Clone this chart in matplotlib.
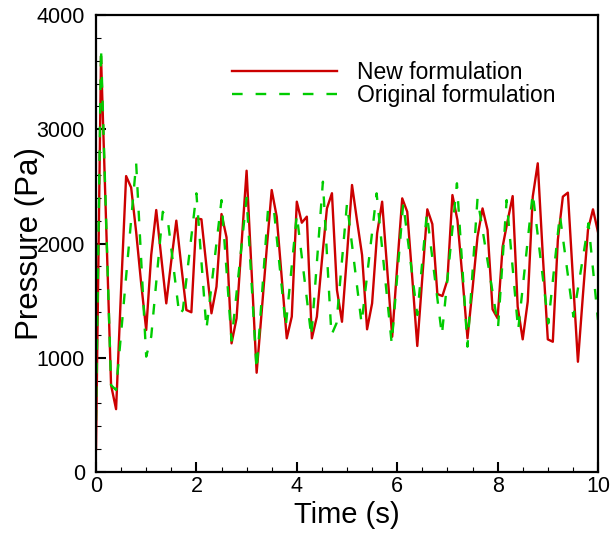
import matplotlib
matplotlib.use('Agg')
import matplotlib.pyplot as plt
from matplotlib.ticker import MultipleLocator

plt.rcParams['font.family'] = ['Liberation Sans', 'DejaVu Sans']

# New formulation (red), sampled every 0.1 s
time_new = [0.0, 0.1, 0.2, 0.3, 0.4, 0.5, 0.6, 0.7, 0.8, 0.9,
            1.0, 1.1, 1.2, 1.3, 1.4, 1.5, 1.6, 1.7, 1.8, 1.9,
            2.0, 2.1, 2.2, 2.3, 2.4, 2.5, 2.6, 2.7, 2.8, 2.9,
            3.0, 3.1, 3.2, 3.3, 3.4, 3.5, 3.6, 3.7, 3.8, 3.9,
            4.0, 4.1, 4.2, 4.3, 4.4, 4.5, 4.6, 4.7, 4.8, 4.9,
            5.0, 5.1, 5.2, 5.3, 5.4, 5.5, 5.6, 5.7, 5.8, 5.9,
            6.0, 6.1, 6.2, 6.3, 6.4, 6.5, 6.6, 6.7, 6.8, 6.9,
            7.0, 7.1, 7.2, 7.3, 7.4, 7.5, 7.6, 7.7, 7.8, 7.9,
            8.0, 8.1, 8.2, 8.3, 8.4, 8.5, 8.6, 8.7, 8.8, 8.9,
            9.0, 9.1, 9.2, 9.3, 9.4, 9.5, 9.6, 9.7, 9.8, 9.9, 10.0]
p_new = [200, 3640, 2200, 760, 550, 1600, 2590, 2490, 2100, 1650,
         1243, 1900, 2293, 1880, 1476, 1850, 2200, 1800, 1418, 1398,
         2220, 2212, 1800, 1389, 1622, 2258, 2054, 1126, 1345, 2000,
         2637, 1750, 869, 1400, 1950, 2468, 2235, 1700, 1170, 1360,
         2366, 2182, 2235, 1170, 1360, 1850, 2307, 2440, 1593, 1315,
         1900, 2512, 2200, 1900, 1249, 1476, 2089, 2366, 1780, 1184,
         1800, 2395, 2278, 1700, 1103, 1700, 2299, 2170, 1558, 1540,
         1680, 2424, 2205, 1700, 1170, 1600, 2060, 2307, 2118, 1424,
         1345, 1972, 2200, 2415, 1447, 1161, 1491, 2410, 2702, 1900,
         1161, 1140, 2031, 2410, 2445, 1700, 965, 1550, 2118, 2299, 2100]

# Original formulation (green dashed)
time_orig = [0.0, 0.1, 0.3, 0.4, 0.8, 1.0, 1.1, 1.33, 1.43, 1.66, 1.73,
             2.0, 2.2, 2.5, 2.7, 3.0, 3.2, 3.43, 3.55, 3.78, 4.0, 4.29,
             4.52, 4.69, 4.79, 5.0, 5.29, 5.59, 5.89, 6.12, 6.4, 6.59,
             6.89, 7.19, 7.4, 7.6, 8.01, 8.18, 8.41, 8.7, 9.01, 9.24,
             9.51, 9.81, 10.0]
p_orig = [450, 3710, 760, 718, 2702, 1010, 1185, 2278, 2206, 1374, 1418,
          2439, 1250, 2380, 1150, 2400, 893, 2322, 2270, 1272, 2250, 1184,
          2541, 1199, 1301, 2350, 1301, 2439, 1126, 2351, 1374, 2264,
          1199, 2527, 1097, 2395, 1272, 2380, 1243, 2439, 1301, 2250,
          1360, 2177, 1330]

fig = plt.figure(figsize=(6.13, 5.36), dpi=100)
ax = fig.add_axes([96/613, 1-472/536, 502/613, 457/536])

ax.plot(time_new, p_new, color='#cc0000', lw=1.7, label='New formulation')
ax.plot(time_orig, p_orig, color='#00cc00', lw=1.7, dashes=(4.5, 5.5),
        label='Original formulation')

ax.set_xlim(0, 10)
ax.set_ylim(0, 4000)
ax.xaxis.set_major_locator(MultipleLocator(2))
ax.xaxis.set_minor_locator(MultipleLocator(0.5))
ax.yaxis.set_major_locator(MultipleLocator(1000))
ax.yaxis.set_minor_locator(MultipleLocator(200))
ax.tick_params(which='both', direction='in', top=False, right=False, labelsize=15.5)
ax.tick_params(which='major', length=7, width=1.5)
ax.tick_params(which='minor', length=3.5, width=0.8)
ax.tick_params(axis='y', pad=8)
ax.tick_params(axis='x', pad=3)
for s in ax.spines.values():
    s.set_linewidth(1.6)

ax.set_xlabel('Time (s)', fontsize=21, labelpad=3)
ax.set_ylabel('Pressure (Pa)', fontsize=22.5, labelpad=-6)

ax.legend(loc='upper left', bbox_to_anchor=(0.271, 0.899), frameon=False,
          fontsize=16.5, handlelength=4.6, handletextpad=0.85, labelspacing=0.0,
          borderpad=0, borderaxespad=0)

fig.savefig('out.png', dpi=100)
